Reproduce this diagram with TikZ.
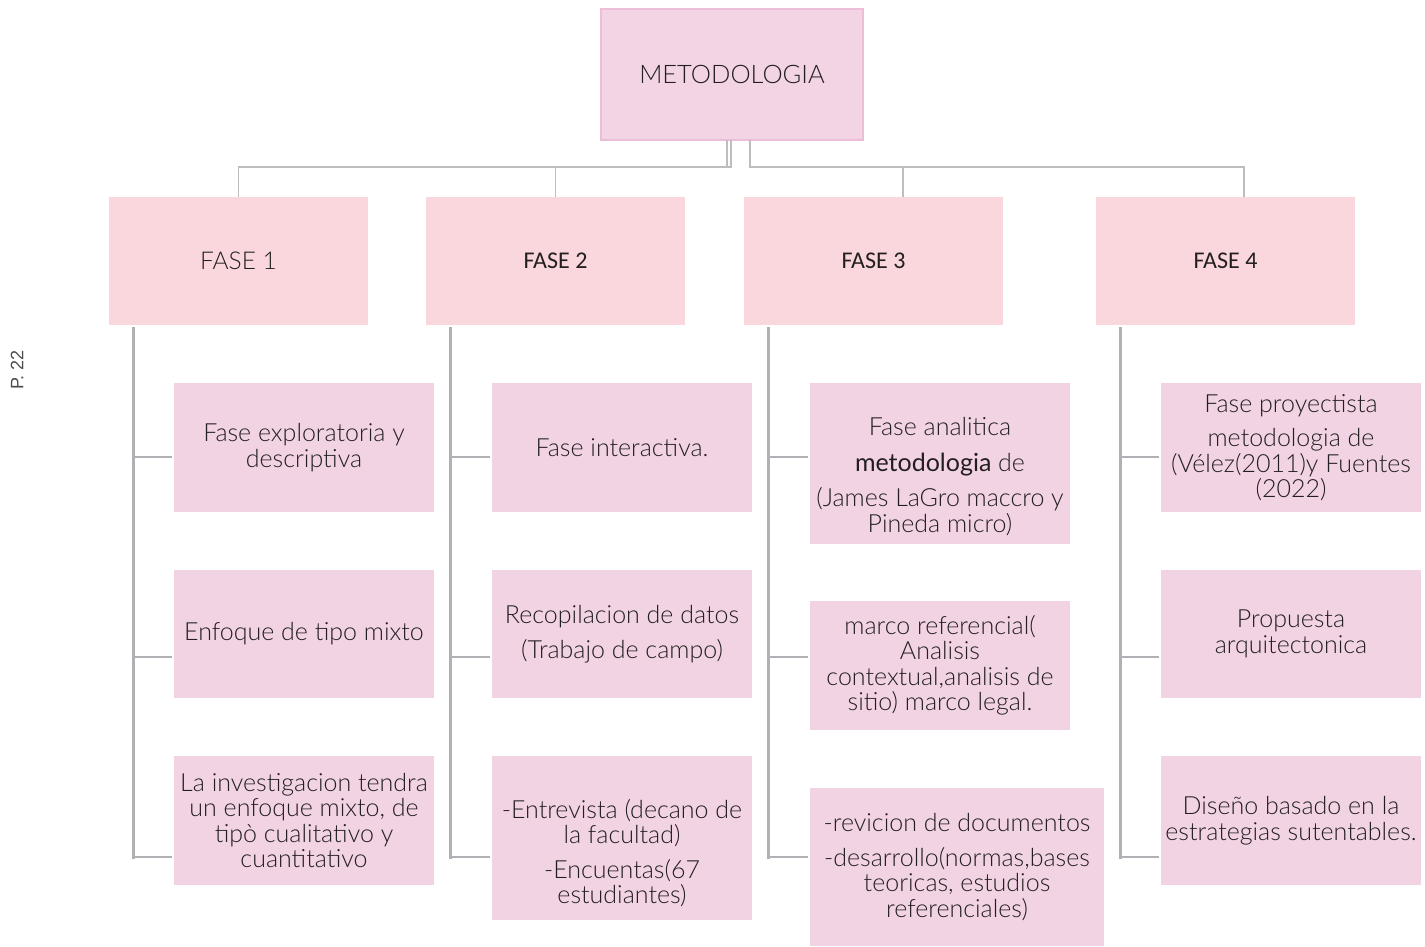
\documentclass[tikz,border=0pt]{standalone}
\usepackage{fontspec}
\setmainfont{Lato Light}
\newfontfamily\latoreg{Lato}
\newfontfamily\calib{Carlito}
\newfontfamily\psans{Liberation Sans}
\definecolor{toppink}{HTML}{F2D4E4}
\definecolor{topborder}{HTML}{EBBDD6}
\definecolor{fasepink}{HTML}{FAD7DC}
\definecolor{childpink}{HTML}{F2D3E3}
\definecolor{linegray}{HTML}{B0B0B5}
\definecolor{toplinegray}{HTML}{BDBDC0}
\definecolor{txt}{HTML}{231F20}
\tikzset{
  topbox/.style={draw=topborder, line width=2pt, fill=toppink, minimum width=262pt, minimum height=131pt, inner sep=0pt, outer sep=0pt, anchor=north west},
  fasebox/.style={fill=fasepink, minimum width=259pt, minimum height=128pt, inner sep=0pt, outer sep=0pt, anchor=north west},
  cbox/.style={fill=childpink, minimum width=260pt, minimum height=129pt, inner sep=0pt, outer sep=0pt, anchor=north west},
  ctext/.style={align=center, text=txt, inner sep=0pt, font=\fontsize{25}{25.5}\selectfont},
  topline/.style={draw=toplinegray, line width=1.6pt},
  vline/.style={draw=linegray, line width=3pt},
  stub/.style={draw=linegray, line width=2.6pt},
}
\begin{document}
\begin{tikzpicture}[x=1pt,y=-1pt]
\useasboundingbox (0,0) rectangle (1425,946);
% top
\node[topbox] (top) at (601,9) {};
\node[ctext, font=\fontsize{25.5}{28}\selectfont] (toptxt) at (top.center) {METODOLOGIA};
% phases
\node[fasebox] (f1) at (109,197) {};
\node[fasebox] (f2) at (426,197) {};
\node[fasebox] (f3) at (744,197) {};
\node[fasebox] (f4) at (1096,197) {};
\node[ctext, font=\fontsize{24.5}{28}\selectfont] (f1t) at (f1.center) {FASE 1};
\node[ctext, font=\calib\fontsize{24}{26}\selectfont] (f2t) at (f2.center) {FASE 2};
\node[ctext, font=\calib\fontsize{24}{26}\selectfont] (f3t) at (f3.center) {FASE 3};
\node[ctext, font=\calib\fontsize{24}{26}\selectfont] (f4t) at (f4.center) {FASE 4};
% top connectors
\draw[topline] ([xshift=-5pt]top.south) -- ++(0,27) -| (f1.north);
\draw[topline] ([xshift=-1pt]top.south) -- ++(0,27) -| (f2.north);
\draw[topline] ([xshift=18pt]top.south) -- ++(0,27) -| ([xshift=29.5pt]f3.north);
\draw[topline] ([xshift=18pt]top.south) -- ++(0,27) -| ([xshift=18.5pt]f4.north);
% children column 1
\node[cbox] (c11) at (174,383) {};
\node[cbox, minimum height=128pt] (c12) at (174,570) {};
\node[cbox] (c13) at (174,756) {};
% column 2
\node[cbox] (c21) at (492,383) {};
\node[cbox, minimum height=128pt] (c22) at (492,570) {};
\node[cbox, minimum height=164pt] (c23) at (492,756) {};
% column 3
\node[cbox, minimum height=161pt] (c31) at (810,383) {};
\node[cbox] (c32) at (810,601) {};
\node[cbox, minimum width=294pt, minimum height=158pt] (c33) at (810,788) {};
% column 4
\node[cbox] (c41) at (1161,383) {};
\node[cbox, minimum height=128pt] (c42) at (1161,570) {};
\node[cbox] (c43) at (1161,756) {};
% texts
\node[ctext] at (c11.center) {Fase exploratoria y\\descriptiva};
\node[ctext] at (c12.center) {Enfoque de tipo mixto};
\node[ctext] at (c13.center) {La investigacion tendra\\un enfoque mixto, de\\tipò cualitativo y\\cuantitativo};
\node[ctext] at (c21.center) {Fase interactiva.};
\node[ctext] at (c22.center) {Recopilacion de datos\\[10pt](Trabajo de campo)};
\node[ctext] at ([yshift=-15pt]c23.center) {-Entrevista (decano de\\la facultad)\\[9pt]-Encuentas(67\\estudiantes)};
\node[ctext] at ([yshift=-13pt]c31.center) {Fase analitica\\[10pt]{\latoreg metodologia} de\\[10pt](James LaGro maccro y\\Pineda micro)};
\node[ctext] at (c32.center) {marco referencial(\\Analisis\\contextual,analisis de\\sitio) marco legal.};
\node[ctext] at (c33.center) {-revicion de documentos\\[9pt]-desarrollo(normas,bases\\teoricas, estudios\\referenciales)};
\node[ctext] at (c41.center) {Fase proyectista\\[9pt]metodologia de\\(Vélez(2011)y Fuentes\\(2022)};
\node[ctext] at (c42.center) {Propuesta\\arquitectonica};
\node[ctext] at (c43.center) {Diseño basado en la\\estrategias sutentables.};
% phase trees
\foreach \f/\a/\b/\c in {f1/c11/c12/c13, f2/c21/c22/c23, f3/c31/c32/c33, f4/c41/c42/c43}{
  \coordinate (v-\f) at ([xshift=24pt,yshift=-2pt]\f.south west);
  \draw[vline] (v-\f) -- (v-\f |- 0,858.5);
  \draw[stub] (v-\f |- 0,457) -- ([xshift=-2pt]\a.west |- 0,457);
  \draw[stub] (v-\f |- 0,657) -- ([xshift=-2pt]\b.west |- 0,657);
  \draw[stub] ([xshift=-1.5pt]v-\f |- 0,857) -- ([xshift=-2pt]\c.west |- 0,857);
}
% page label
\node[rotate=90, text=black!70, font=\psans\fontsize{18}{20}\selectfont] (pg) at (17,370) {P. 22};
\end{tikzpicture}
\end{document}
